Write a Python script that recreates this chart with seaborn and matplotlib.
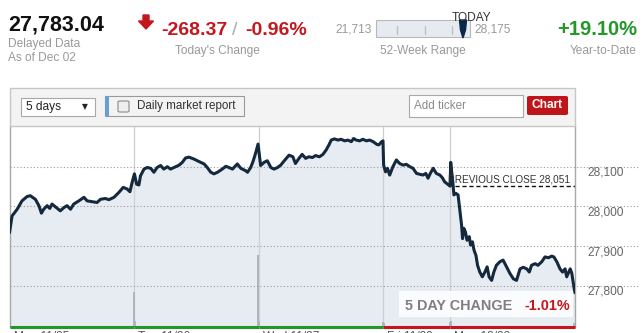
import matplotlib
matplotlib.use("Agg")
import matplotlib.pyplot as plt
import seaborn as sns
import numpy as np
import pandas as pd
from matplotlib.patches import Rectangle, Polygon, FancyBboxPatch

# ---------------- data ----------------
# trading minutes since Mon 11/25 open (Fri 11/29 is a half session)
times = [0, 8, 24, 39, 55, 65, 81, 92, 100, 107, 118, 126, 133, 147, 159, 170, 180, 191, 201, 217,
         233, 243, 259, 274, 285, 300, 311, 327, 342, 356, 368, 377, 384,
         391, 398, 405, 410, 421, 431, 442, 452, 462, 473, 483, 494, 504, 515, 531, 541, 551, 562,
         578, 593, 609, 619, 630, 640, 651, 666, 677, 687, 698, 713, 724, 739, 745, 755, 763, 771, 778,
         786, 797, 807, 818, 828, 839, 849, 860, 875, 887, 895, 906, 916, 927, 937, 948, 958, 970,
         981, 991, 1000, 1007, 1017, 1028, 1038, 1049, 1059, 1070, 1077, 1085, 1096, 1106, 1117,
         1127, 1138, 1150, 1156, 1165, 1169,
         1171, 1177, 1183, 1190, 1200, 1211, 1221, 1232, 1242, 1253, 1263, 1274, 1284, 1294, 1303,
         1310, 1317, 1326, 1336, 1347, 1355, 1362, 1379,
         1381, 1384, 1388, 1391, 1397, 1404, 1409, 1415, 1418, 1422, 1427, 1432, 1439, 1443, 1449,
         1454, 1460, 1465, 1472, 1480, 1488, 1495, 1501, 1509, 1516, 1524, 1535, 1545, 1556, 1566,
         1577, 1587, 1598, 1608, 1619, 1627, 1634, 1645, 1654, 1666, 1676, 1687, 1697, 1704, 1713,
         1723, 1731, 1739, 1744, 1755, 1760, 1767, 1770]
prices = [27934, 27976, 27993, 28014, 28025, 28027, 28018, 28002, 27983, 27993, 28002, 27995, 28006,
          27997, 27989, 27997, 28002, 27993, 28006, 28014, 28023, 28014, 28012, 28010, 28018, 28020,
          28017, 28023, 28035, 28048, 28044, 28037, 28061,
          28082, 28056, 28054, 28077, 28094, 28098, 28096, 28086, 28098, 28103, 28094, 28100, 28094,
          28098, 28104, 28111, 28122, 28124, 28119, 28113, 28107, 28098, 28086, 28082, 28086, 28094,
          28101, 28098, 28094, 28107, 28096, 28090, 28086, 28098, 28115, 28136, 28157,
          28103, 28111, 28115, 28098, 28094, 28098, 28104, 28115, 28129, 28125, 28108, 28121, 28131,
          28121, 28125, 28123, 28128, 28125, 28131, 28142, 28155, 28167, 28170, 28167, 28169, 28165,
          28167, 28163, 28171, 28167, 28165, 28169, 28165, 28167, 28163, 28156, 28155, 28163, 28165,
          28104, 28087, 28096, 28079, 28100, 28117, 28108, 28104, 28106, 28100, 28096, 28083, 28081,
          28079, 28083, 28071, 28083, 28096, 28083, 28079, 28072, 28062, 28051,
          28111, 28087, 28058, 28029, 28033, 28029, 27995, 27953, 27919, 27945, 27936, 27915, 27924,
          27903, 27911, 27890, 27877, 27852, 27835, 27823, 27835, 27848, 27823, 27814, 27835, 27852,
          27861, 27865, 27848, 27832, 27818, 27814, 27843, 27847, 27843, 27835, 27852, 27856, 27852,
          27861, 27873, 27871, 27875, 27873, 27861, 27843, 27835, 27843, 27823, 27843, 27832, 27795,
          27783]

vol_times = [2, 389, 392, 779, 782, 1168, 1172, 1378, 1382, 1768]
vol_values = [8, 68, 10, 142, 10, 8, 6, 8, 10, 6]
VOL_MAX = 400

day_labels = ["Mon 11/25", "Tue 11/26", "Wed 11/27", "Fri 11/29", "Mon 12/02"]
day_starts = [0, 390, 780, 1170, 1380]
day_ends = [390, 780, 1170, 1380, 1770]
day_direction = ["up", "up", "up", "down", "down"]

y_ticks = [27800, 27900, 28000, 28100]
prev_close = 28051

last_value = "27,783.04"
change_pts = "-268.37"
change_pct = "-0.96%"
week52_low = "21,713"
week52_high = "28,175"
ytd = "+19.10%"
five_day = "-1.01%"

# ---------------- style ----------------
sns.set_theme(style="white")
plt.rcParams["font.family"] = ["Liberation Sans", "DejaVu Sans"]

W, H = 643, 333
fig = plt.figure(figsize=(W / 100, H / 100), dpi=100)
fig.patch.set_facecolor("white")


def fx(x):
    return x / W


def fy(y):
    return 1 - y / H


RED = "#c4161c"
GREEN = "#23972a"
GREY = "#999999"
NAVY = "#14293d"

# ---------------- header ----------------
fig.text(fx(8), fy(30), last_value, fontsize=15.5, fontweight="bold", color="#111111", va="baseline")
fig.text(fx(8), fy(47), "Delayed Data", fontsize=8.6, color=GREY, va="baseline")
fig.text(fx(8), fy(61), "As of Dec 02", fontsize=8.6, color=GREY, va="baseline")

# down arrow
arrow = Polygon([(fx(143), fy(15)), (fx(149), fy(15)), (fx(149), fy(21)), (fx(153.5), fy(21)),
                 (fx(146), fy(29)), (fx(138.5), fy(21)), (fx(143), fy(21))],
                closed=True, transform=fig.transFigure, color=RED)
fig.patches.append(arrow)
fig.text(fx(161), fy(35), change_pts, fontsize=14, fontweight="bold", color=RED, va="baseline")
fig.text(fx(235), fy(35), "/", fontsize=14, color="#aaaaaa", va="baseline", ha="center")
fig.text(fx(307), fy(35), change_pct, fontsize=14, fontweight="bold", color=RED, va="baseline",
         ha="right")
fig.text(fx(217), fy(54), "Today's Change", fontsize=8.6, color=GREY, va="baseline", ha="center")

# 52 week range
fig.text(fx(372), fy(33), week52_low, fontsize=8.6, color=GREY, va="baseline", ha="right")
fig.patches.append(Rectangle((fx(376), fy(37)), fx(94), 17 / H, transform=fig.transFigure,
                             facecolor="#e6ebf2", edgecolor="#b8b8b8", lw=0.8))
for tx in [397, 425, 452]:
    fig.lines.append(plt.Line2D([fx(tx), fx(tx)], [fy(26), fy(34)], transform=fig.transFigure,
                                color="#c0c0c0", lw=1))
pin = Polygon([(fx(459.5), fy(20)), (fx(466.5), fy(20)), (fx(465.5), fy(30)), (fx(463), fy(38)),
               (fx(460.5), fy(30))], closed=True, transform=fig.transFigure, color="#0b2747")
fig.patches.append(pin)
fig.text(fx(471), fy(21), "TODAY", fontsize=8.6, color="#333333", va="baseline", ha="center")
fig.text(fx(474), fy(33), week52_high, fontsize=8.6, color=GREY, va="baseline")
fig.text(fx(423), fy(54), "52-Week Range", fontsize=8.6, color=GREY, va="baseline", ha="center")

# YTD
fig.text(fx(637), fy(35), ytd, fontsize=14.5, fontweight="bold", color=GREEN, va="baseline", ha="right")
fig.text(fx(637), fy(54), "Year-to-Date", fontsize=8.6, color=GREY, va="baseline", ha="right")

# ---------------- control bar ----------------
fig.patches.append(Rectangle((fx(9.5), fy(126)), fx(565.5), 38 / H, transform=fig.transFigure,
                             facecolor="#f3f3f3", edgecolor="#c6c6c6", lw=1))
fig.patches.append(Rectangle((fx(20.5), fy(115.5)), fx(74), 18 / H, transform=fig.transFigure,
                             facecolor="white", edgecolor="#a8a8a8", lw=0.8))
fig.text(fx(26), fy(106.5), "5 days", fontsize=8.6, color="#222222", va="center")
fig.text(fx(85), fy(106.5), "\u25bc", fontsize=5.5, color="#222222", va="center", ha="center",
         family="DejaVu Sans")
fig.patches.append(Rectangle((fx(105), fy(116)), fx(139), 20 / H, transform=fig.transFigure,
                             facecolor="#f3f3f3", edgecolor="#9a9a9a", lw=0.8))
fig.patches.append(Rectangle((fx(105), fy(116)), fx(4), 20 / H, transform=fig.transFigure,
                             facecolor="#6a9fcf", edgecolor="none"))
fig.patches.append(FancyBboxPatch((fx(118), fy(112)), fx(11), 11 / H, transform=fig.transFigure,
                                  boxstyle="round,pad=0,rounding_size=0.003",
                                  facecolor="#eeeeee", edgecolor="#8a8a8a", lw=0.8))
fig.text(fx(137), fy(106), "Daily market report", fontsize=8.4, color="#333333", va="center")
fig.patches.append(Rectangle((fx(409), fy(117)), fx(114), 22 / H, transform=fig.transFigure,
                             facecolor="white", edgecolor="#a8a8a8", lw=0.8))
fig.text(fx(414), fy(106), "Add ticker", fontsize=8.4, color="#8a8a8a", va="center")
fig.patches.append(FancyBboxPatch((fx(527), fy(115)), fx(41), 19 / H, transform=fig.transFigure,
                                  boxstyle="round,pad=0,rounding_size=0.004",
                                  facecolor="#c0141b", edgecolor="none"))
fig.text(fx(547.5), fy(105.5), "Chart", fontsize=8.6, fontweight="bold", color="white",
         va="center", ha="center")

# ---------------- chart ----------------
top_px, bot_px, left_px, right_px = 126, 326.5, 9.5, 575
ax = fig.add_axes([fx(left_px), 1 - bot_px / H, (right_px - left_px) / W, (bot_px - top_px) / H])
y_per_px = 100 / 39.75
ymin = 28100 - (bot_px - 166.7) * y_per_px
ymax = 28100 + (166.7 - top_px) * y_per_px
ax.set_xlim(0, 1770)
ax.set_ylim(ymin, ymax)
ax.set_facecolor("white")

df = pd.DataFrame({"t": times, "price": prices})
ax.fill_between(df["t"], df["price"], ymin, color="#e7ecf2", lw=0, zorder=1)

for d in day_starts[1:]:
    ax.axvline(d, color="#cfcfcf", lw=0.9, zorder=1.5)

ax.vlines(vol_times, 0, np.array(vol_values) / VOL_MAX, transform=ax.get_xaxis_transform(),
          color="#aab6c3", lw=1.4, zorder=1.6)

xmax_frac = (640 - left_px) / (right_px - left_px)
for v in y_ticks:
    ax.axhline(v, xmin=0, xmax=xmax_frac, color="#9a9a9a", lw=0.8, ls=(0, (1, 2)),
               clip_on=False, zorder=2)
    ax.annotate(f"{v:,}", xy=(1, v), xycoords=ax.get_yaxis_transform(), xytext=(12, -6),
                textcoords="offset pixels", fontsize=8.6, color="#666666", va="center", ha="left",
                annotation_clip=False)

sns.lineplot(data=df, x="t", y="price", ax=ax, color=NAVY, lw=2.2, estimator=None, sort=False,
             zorder=3)

# previous close
ax.hlines(prev_close, 1394, 1770, colors="#111111", lw=1, linestyles=(0, (3, 2)), zorder=4)
ax.annotate(f"PREVIOUS CLOSE {prev_close:,}", xy=(1374, prev_close), xytext=(0, 4),
            textcoords="offset pixels", fontsize=7.2, color="#333333", va="baseline", ha="left",
            zorder=5)

# bottom day colour strip
for s, e, d in zip(day_starts, day_ends, day_direction):
    ax.hlines(ymin, s, e, colors=GREEN if d == "up" else RED, lw=2.2, clip_on=False, zorder=6)

# day labels (mostly cut by the bottom edge)
for s, lab in zip(day_starts, day_labels):
    ax.annotate(lab, xy=(s, 0), xycoords=ax.get_xaxis_transform(), xytext=(4, -5),
                textcoords="offset pixels", fontsize=8.6, color="#555555", va="top", ha="left",
                annotation_clip=False)

ax.set_xticks([])
ax.set_yticks([])
ax.set_xlabel("")
ax.set_ylabel("")
for side in ["top", "bottom"]:
    ax.spines[side].set_visible(False)
for side in ["left", "right"]:
    ax.spines[side].set_color("#a8a8a8")
    ax.spines[side].set_linewidth(1)

# 5 day change box
fig.patches.append(Rectangle((fx(399), fy(317)), fx(174), 26 / H, transform=fig.transFigure,
                             facecolor="white", alpha=0.85, edgecolor="none", zorder=10))
fig.text(fx(405), fy(310.5), "5 DAY CHANGE", fontsize=10.4, fontweight="bold", color="#7f7f7f",
         va="baseline", zorder=11)
fig.text(fx(570), fy(310.5), five_day, fontsize=10.4, fontweight="bold", color=RED,
         va="baseline", ha="right", zorder=11)

fig.savefig("out.png", dpi=100)
